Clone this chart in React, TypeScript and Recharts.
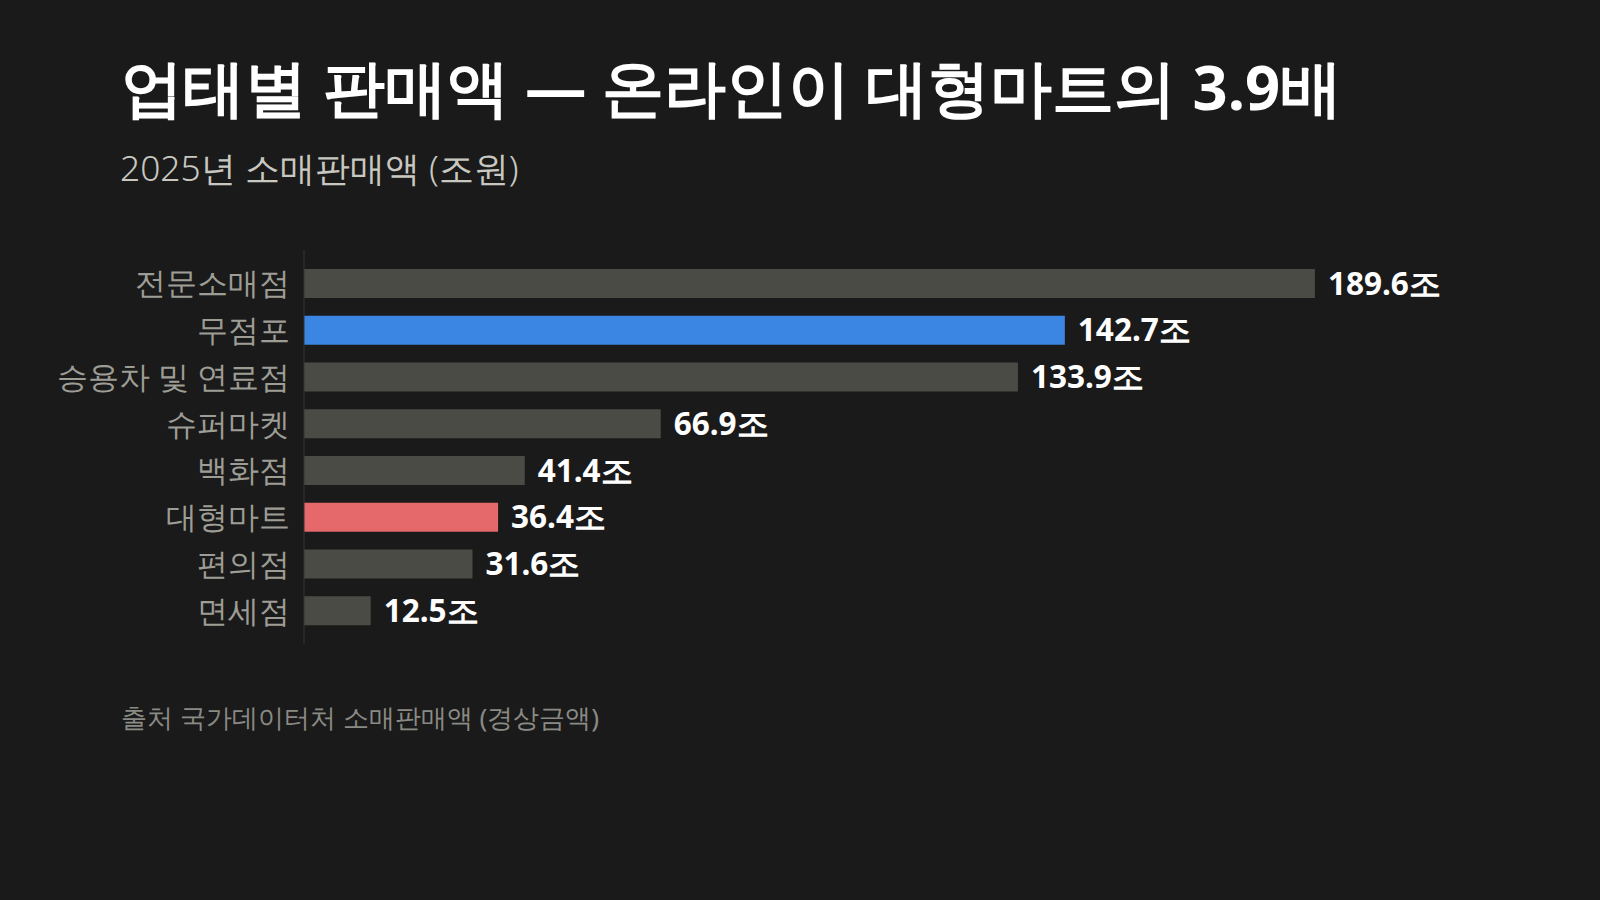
import { BarChart, Bar, XAxis, YAxis, Cell, LabelList } from "recharts"

const TITLE = "업태별 판매액 — 온라인이 대형마트의 3.9배"
const SUBTITLE = "2025년 소매판매액 (조원)"
const SOURCE = "출처 국가데이터처 소매판매액 (경상금액)"

const categories = ["전문소매점", "무점포", "승용차 및 연료점", "슈퍼마켓", "백화점", "대형마트", "편의점", "면세점"]
const values = [189.6, 142.7, 133.9, 66.9, 41.4, 36.4, 31.6, 12.5]
const highlight: Record<string, string> = { 무점포: "#3a86e2", 대형마트: "#e5686b" }

const data = categories.map((name, i) => ({ name, value: values[i] }))

const FONT = '"Noto Sans", sans-serif'

export default function App() {
  return (
    <div
      style={{
        position: "fixed",
        left: 0,
        top: 0,
        width: 1600,
        height: 900,
        background: "#1a1a1a",
        fontFamily: FONT,
        overflow: "hidden",
      }}
    >
      <div style={{ position: "absolute", left: 121, top: 56, fontSize: 61.5, lineHeight: 1, fontWeight: 700, color: "#ffffff", whiteSpace: "nowrap" }}>
        {TITLE}
      </div>
      <div style={{ position: "absolute", left: 120, top: 150, fontSize: 35.3, lineHeight: 1, fontWeight: 300, color: "#c8c8c0", whiteSpace: "nowrap" }}>
        {SUBTITLE}
      </div>
      <div style={{ position: "absolute", left: 0, top: 0 }}>
        <BarChart
          width={1600}
          height={900}
          data={data}
          layout="vertical"
          margin={{ top: 250, right: 123, bottom: 256, left: 0 }}
          barSize={29}
        >
          <XAxis type="number" domain={[0, 220]} hide />
          <YAxis
            type="category"
            dataKey="name"
            width={304}
            padding={{ top: 10, bottom: 10 }}
            axisLine={{ stroke: "#353535" }}
            tickLine={false}
            tickSize={0}
            tickMargin={14}
            tick={{ fontSize: 31, fill: "#9d9d95", fontFamily: FONT }}
            interval={0}
          />
          <Bar dataKey="value" fill="#4b4b46" isAnimationActive={false}>
            {data.map((d) => (
              <Cell key={d.name} fill={highlight[d.name] ?? "#4b4b46"} />
            ))}
            <LabelList
              dataKey="value"
              position="right"
              offset={13}
              formatter={(v: unknown) => `${Number(v).toFixed(1)}조`}
              style={{ fontSize: 31.5, fontWeight: 700, fill: "#ffffff", fontFamily: FONT }}
            />
          </Bar>
        </BarChart>
      </div>
      <div style={{ position: "absolute", left: 121, top: 704, fontSize: 26.2, lineHeight: 1, color: "#8a8a85", whiteSpace: "nowrap" }}>
        {SOURCE}
      </div>
    </div>
  )
}
